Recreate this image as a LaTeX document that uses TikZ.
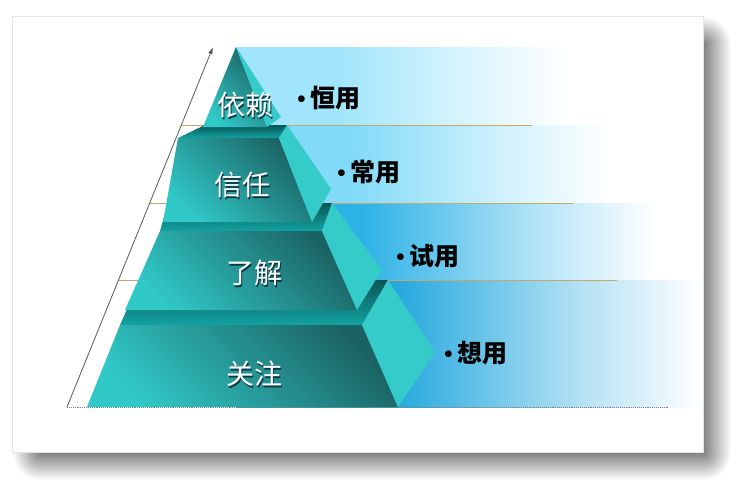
\documentclass[tikz,border=0pt]{standalone}
\usepackage{fontspec}
\setmainfont{Liberation Serif}
\newfontfamily\cjk{Noto Sans CJK SC}
\usetikzlibrary{arrows.meta}
\definecolor{cTealD}{HTML}{1b6262}
\definecolor{cTealL}{HTML}{31c8c8}
\definecolor{cSide}{HTML}{35cbc8}
\definecolor{cBevD}{HTML}{0a5656}
\definecolor{cBevL}{HTML}{13a2a2}
\definecolor{cBandA}{HTML}{a0e5fb}
\definecolor{cBandB}{HTML}{80daf8}
\definecolor{cBandC}{HTML}{2db2e6}
\definecolor{cBandD}{HTML}{16a2dc}
\definecolor{cRule}{HTML}{c4a86e}
\definecolor{cTxtShadow}{HTML}{0c3846}
\colorlet{cShadow}{black!50}
\colorlet{bandc}{cBandA}
\pgfdeclarehorizontalshading[bandc]{bandfade}{100bp}{color(0bp)=(bandc);
  color(40bp)=(bandc); color(60bp)=(bandc!38!white); color(75bp)=(white);
  color(100bp)=(white)}
\tikzset{
  front/.style={top color=cTealD,bottom color=cTealL,shading angle=-45},
  sideface/.style={fill=cSide},
  bevel/.style={top color=cBevD,bottom color=cBevL},
  tiertext/.style={text=white,inner sep=0pt,font=\cjk\fontsize{28}{32}\selectfont},
  tiershadow/.style={tiertext,text=cTxtShadow},
  uselabel/.style={anchor=west,inner sep=0pt,font=\fontsize{25}{28}\selectfont\bfseries},
  rule/.style={cRule,line width=0.9pt},
  baserule/.style={gray,line width=0.9pt,densely dotted},
  axisline/.style={-{Latex[length=7pt,width=4.5pt]},black!65,line width=0.8pt},
  corner/.style={inner color=cShadow,outer color=white},
}
\begin{document}
\begin{tikzpicture}[x=1pt,y=-1pt]
  \useasboundingbox (0,0) rectangle (736,480);
  % card shadow
  \shade[left color=cShadow,right color=white] (703,44) rectangle (731,452);
  \shade[top color=cShadow,bottom color=white] (40,452) rectangle (703,480);
  \begin{scope}
    \clip (703,16) rectangle (736,44);
    \shade[corner] (703,44) circle (28);
  \end{scope}
  \begin{scope}
    \clip (703,452) rectangle (736,480);
    \shade[corner] (703,452) circle (28);
  \end{scope}
  \begin{scope}
    \clip (12,452) rectangle (40,480);
    \shade[corner] (40,452) circle (28);
  \end{scope}
  \fill[white,draw=black!10] (12,16) rectangle (703,452);
  % fading bands behind the pyramid
  \colorlet{bandc}{cBandA}\shade[shading=bandfade] (237,47) rectangle (570,125);
  \colorlet{bandc}{cBandB}\shade[shading=bandfade] (237,125) rectangle (610,203);
  \colorlet{bandc}{cBandC}\shade[shading=bandfade] (237,203) rectangle (655,280);
  \colorlet{bandc}{cBandD}\shade[shading=bandfade] (237,280) rectangle (700,407);
  \draw[rule] (181,125) -- (532,125);
  \draw[rule] (150,203) -- (573,203);
  \draw[rule] (118,280) -- (617,280);
  % axes
  \coordinate (axo) at (67,407);
  \coordinate (axtop) at (213,47);
  \coordinate (axend) at (668,407);
  \draw[baserule] (axo) -- (axend);
  \draw[axisline] (axo) -- (axtop);
  % tier 4
  \shade[bevel] (140,280) -- (388,280) -- (362,325) -- (120,325) -- cycle;
  \shade[front] (120,325) -- (362,325) -- (398,407) -- (87,407) -- cycle;
  \fill[sideface] (388,280) -- (435,352) -- (398,407) -- (362,325) -- cycle;
  % tier 3
  \shade[bevel] (168,203) -- (332,203) -- (322,231) -- (160,231) -- cycle;
  \shade[front] (160,231) -- (322,231) -- (357,310) -- (125,310) -- cycle;
  \fill[sideface] (332,203) -- (382,270) -- (357,310) -- (322,231) -- cycle;
  % tier 2
  \shade[bevel] (205,125) -- (287,125) -- (279,138) -- (178,138) -- cycle;
  \shade[front] (178,138) -- (279,138) -- (312,222) -- (163,222) -- cycle;
  \fill[sideface] (287,125) -- (331,189) -- (312,222) -- (279,138) -- cycle;
  % tier 1
  \shade[front] (236,47) -- (267,127) -- (203,127) -- cycle;
  \fill[sideface] (236,47) -- (281,117) -- (267,127) -- cycle;
  % tier names
  \foreach \txt/\x/\y/\nm in {依赖/245/105/t1,信任/242/185/t2,了解/254/273/t3,关注/254/374/t4}{
    \node[tiershadow] (\nm s) at (\x+1.5,\y+1.5) {\txt};
    \node[tiertext] (\nm) at (\x,\y) {\txt};
  }
  % usage labels
  \node[uselabel] (u1) at (297,98) {•\,{\cjk 恒用}};
  \node[uselabel] (u2) at (337,172) {•\,{\cjk 常用}};
  \node[uselabel] (u3) at (396,256) {•\,{\cjk 试用}};
  \node[uselabel] (u4) at (444,353) {•\,{\cjk 想用}};
\end{tikzpicture}
\end{document}
